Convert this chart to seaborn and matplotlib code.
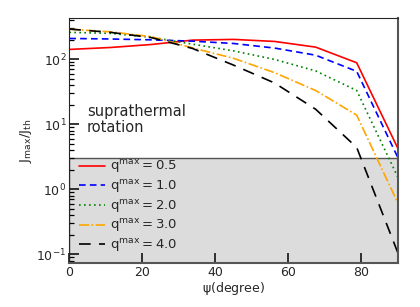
import matplotlib
matplotlib.use('Agg')
import matplotlib.pyplot as plt
import matplotlib.ticker as mticker
import pandas as pd
import seaborn as sns

# Data
psi = [0, 11.25, 22.5, 33.75, 45, 56.25, 67.5, 78.75, 90]
q_values = ['0.5', '1.0', '2.0', '3.0', '4.0']
j_q05 = [141, 151, 168, 196, 201, 187, 153, 88, 4.3]
j_q10 = [208, 204, 198, 189, 174, 148, 115, 65, 3.1]
j_q20 = [258, 249, 217, 170, 134, 99, 66, 33, 1.55]
j_q30 = [288, 263, 221, 149, 103, 62, 33, 13.8, 0.62]
j_q40 = [290, 258, 214, 146, 81, 43, 17, 4.4, 0.107]
threshold = 3.0

series = [j_q05, j_q10, j_q20, j_q30, j_q40]
df = pd.DataFrame({
    'psi': psi * len(series),
    'J': sum(series, []),
    'q': [r'$\mathregular{q^{max} = %s}$' % q for q in q_values for _ in psi],
})

sns.set_style('ticks')
plt.rcParams['font.family'] = ['DejaVu Sans']

colors = ['red', 'blue', 'green', 'orange', 'black']
dashes = [(), (4, 2.5), (1, 2), (6, 1.5, 1, 1.5), (7, 5)]
labels = list(df['q'].unique())

fig = plt.figure(figsize=(4.2, 3.07), dpi=100)
ax = fig.add_axes([0.165, 0.143, 0.782, 0.798])

# shaded region below the threshold
ylo, yhi = 0.0735, 427
ax.axhspan(ylo, threshold, facecolor='#dcdcdc', edgecolor='#555555', linewidth=1.0, zorder=0)

sns.lineplot(data=df, x='psi', y='J', hue='q', style='q',
             palette=dict(zip(labels, colors)), dashes=dict(zip(labels, dashes)),
             linewidth=1.2, ax=ax)

ax.set_yscale('log')
ax.set_xlim(0, 90)
ax.set_ylim(ylo, yhi)
ax.set_xticks([0, 20, 40, 60, 80])
ax.yaxis.set_minor_locator(mticker.LogLocator(base=10, subs=range(2, 10), numticks=20))
ax.yaxis.set_minor_formatter(mticker.NullFormatter())

ax.set_xlabel(r'$\mathregular{\psi}$(degree)', fontsize=9, labelpad=1)
ax.set_ylabel(r'$\mathregular{J_{max}/J_{th}}$', fontsize=9.5, labelpad=2)

ax.text(0.054, 0.65, 'suprathermal\nrotation', transform=ax.transAxes,
        fontsize=10.5, va='top', ha='left', linespacing=1.1)

ax.tick_params(which='both', direction='in', top=False, right=False,
               labelsize=9, pad=2, color='black')
ax.tick_params(which='major', length=7, width=1.1)
ax.tick_params(which='minor', length=3.5, width=0.9)
ax.tick_params(axis='x', which='minor', bottom=False)

for side in ['bottom', 'right']:
    ax.spines[side].set_color('#555555')
    ax.spines[side].set_linewidth(1.5)

ax.legend(loc='lower left', frameon=False, fontsize=9.5, handlelength=2.0,
          borderaxespad=0.3, labelspacing=0.2, handletextpad=0.4)

fig.savefig('out.png', dpi=100)
